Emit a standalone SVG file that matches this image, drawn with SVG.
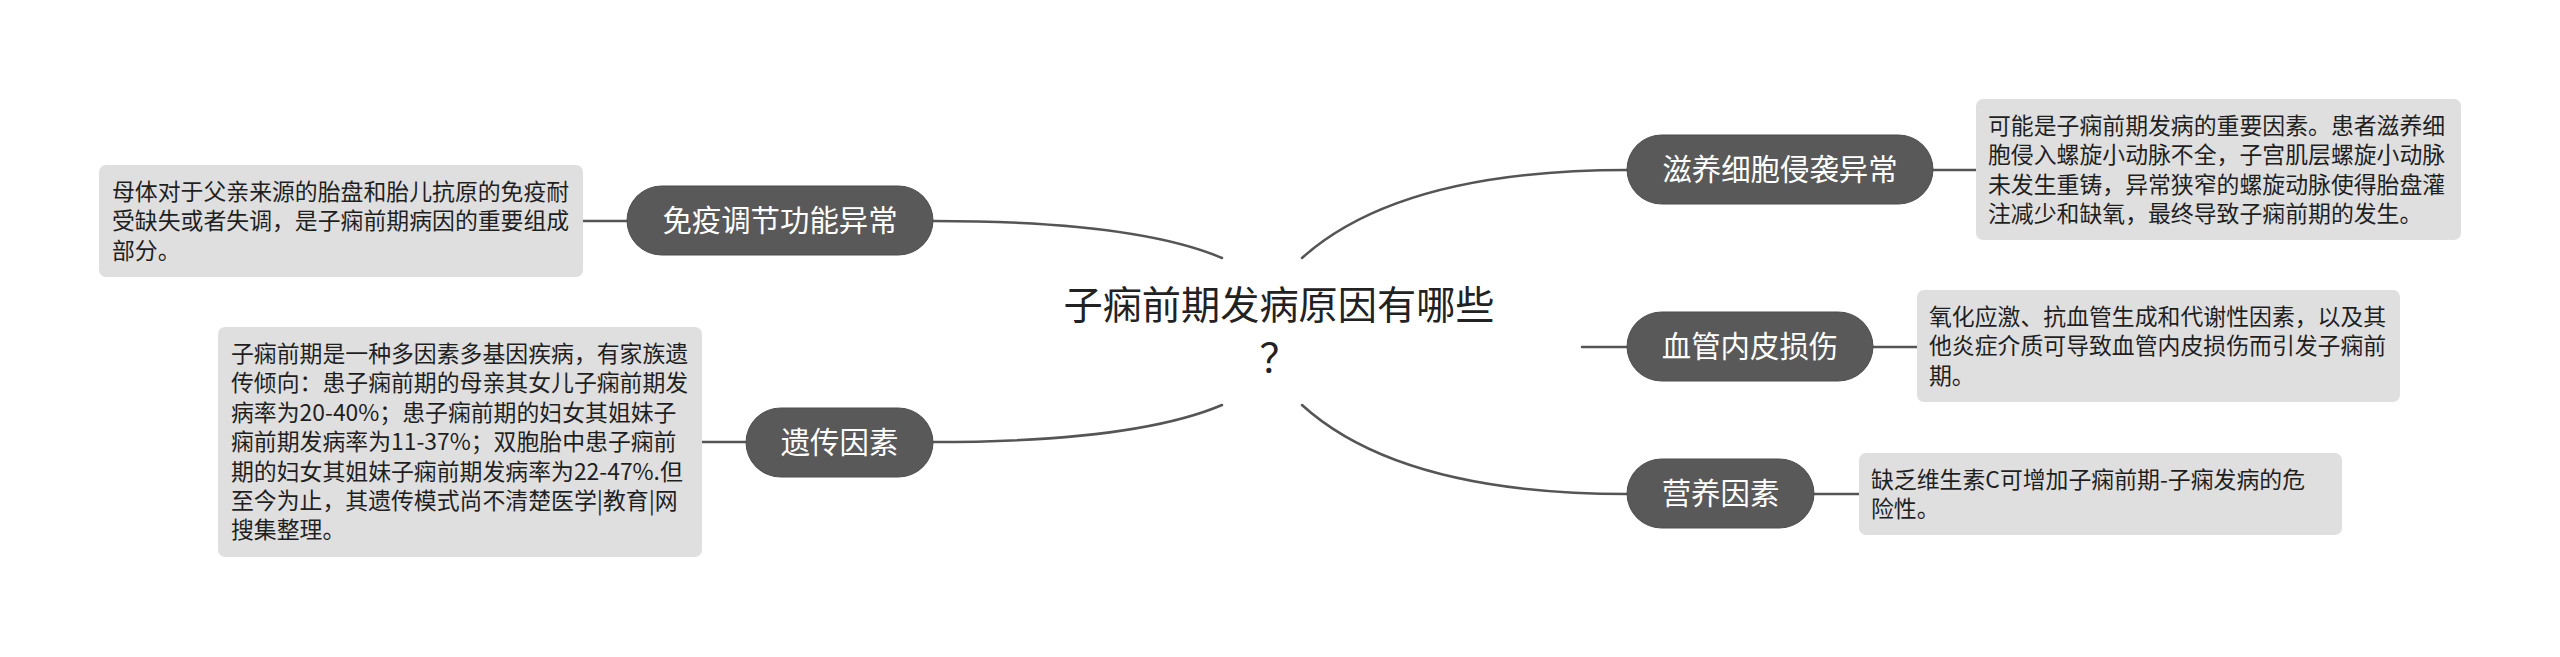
<svg xmlns="http://www.w3.org/2000/svg" width="2560" height="657" viewBox="0 0 2560 657">
<style>
.bg{fill:#ffffff}
.conn{fill:none;stroke:#555555;stroke-width:2.5;stroke-linecap:round}
.topic{fill:#595959;stroke:#4d4d4d;stroke-width:1}
.topic-t{font-family:"Noto Sans CJK SC","Noto Sans",sans-serif;font-size:29.4px;fill:#ffffff;text-anchor:middle}
.note{fill:#dfdfdf}
.note-t{font-family:"Noto Sans CJK SC","Noto Sans",sans-serif;font-size:22.86px;fill:#1f1f1f}
.title-t{font-family:"Noto Sans CJK SC","Noto Sans",sans-serif;font-size:39.2px;fill:#222222;text-anchor:middle}
</style>
<rect class="bg" x="0" y="0" width="2560" height="657"/>
<g id="connectors">
<path class="conn" d="M1222,258 Q1135,221 933,221"/>
<path class="conn" d="M1222,405 Q1135,442 933,442"/>
<path class="conn" d="M1302,258 Q1400,170 1627,170"/>
<path class="conn" d="M1582,347 H1627"/>
<path class="conn" d="M1302,405 Q1400,494 1627,494"/>
<path class="conn" d="M583,221 H627"/>
<path class="conn" d="M702,442 H746"/>
<path class="conn" d="M1933,170 H1976"/>
<path class="conn" d="M1873,347 H1917"/>
<path class="conn" d="M1814,494 H1859"/>
</g>
<g id="center">
<text class="title-t" x="1279" y="319">子痫前期发病原因有哪些</text>
<text class="title-t" x="1279" y="372">？</text>
</g>
<g id="node-immune">
<rect class="topic" x="627" y="186" width="306" height="69" rx="34.5"/>
<text class="topic-t" x="780" y="231">免疫调节功能异常</text>
</g>
<g id="note-immune">
<rect class="note" x="99" y="165" width="484" height="112" rx="7"/>
<text class="note-t" x="112" y="200">母体对于父亲来源的胎盘和胎儿抗原的免疫耐</text>
<text class="note-t" x="112" y="229.4">受缺失或者失调，是子痫前期病因的重要组成</text>
<text class="note-t" x="112" y="258.8">部分。</text>
</g>
<g id="node-genetic">
<rect class="topic" x="746" y="408" width="187" height="69" rx="34.5"/>
<text class="topic-t" x="839.5" y="453">遗传因素</text>
</g>
<g id="note-genetic">
<rect class="note" x="218" y="327" width="484" height="230" rx="7"/>
<text class="note-t" x="231" y="362">子痫前期是一种多因素多基因疾病，有家族遗</text>
<text class="note-t" x="231" y="391.4">传倾向：患子痫前期的母亲其女儿子痫前期发</text>
<text class="note-t" x="231" y="420.8">病率为20-40%；患子痫前期的妇女其姐妹子</text>
<text class="note-t" x="231" y="450.2">痫前期发病率为11-37%；双胞胎中患子痫前</text>
<text class="note-t" x="231" y="479.6">期的妇女其姐妹子痫前期发病率为22-47%.但</text>
<text class="note-t" x="231" y="509">至今为止，其遗传模式尚不清楚医学|教育|网</text>
<text class="note-t" x="231" y="538.4">搜集整理。</text>
</g>
<g id="node-trophoblast">
<rect class="topic" x="1627" y="135" width="306" height="69" rx="34.5"/>
<text class="topic-t" x="1780" y="180">滋养细胞侵袭异常</text>
</g>
<g id="note-trophoblast">
<rect class="note" x="1976" y="99" width="485" height="141" rx="7"/>
<text class="note-t" x="1988" y="134">可能是子痫前期发病的重要因素。患者滋养细</text>
<text class="note-t" x="1988" y="163.4">胞侵入螺旋小动脉不全，子宫肌层螺旋小动脉</text>
<text class="note-t" x="1988" y="192.8">未发生重铸，异常狭窄的螺旋动脉使得胎盘灌</text>
<text class="note-t" x="1988" y="222.2">注减少和缺氧，最终导致子痫前期的发生。</text>
</g>
<g id="node-vascular">
<rect class="topic" x="1627" y="312" width="246" height="69" rx="34.5"/>
<text class="topic-t" x="1750" y="357">血管内皮损伤</text>
</g>
<g id="note-vascular">
<rect class="note" x="1917" y="290" width="483" height="112" rx="7"/>
<text class="note-t" x="1929" y="325">氧化应激、抗血管生成和代谢性因素，以及其</text>
<text class="note-t" x="1929" y="354.4">他炎症介质可导致血管内皮损伤而引发子痫前</text>
<text class="note-t" x="1929" y="383.8">期。</text>
</g>
<g id="node-nutrition">
<rect class="topic" x="1627" y="459" width="187" height="69" rx="34.5"/>
<text class="topic-t" x="1720.5" y="504">营养因素</text>
</g>
<g id="note-nutrition">
<rect class="note" x="1859" y="453" width="483" height="82" rx="7"/>
<text class="note-t" x="1871" y="488">缺乏维生素C可增加子痫前期-子痫发病的危</text>
<text class="note-t" x="1871" y="517.4">险性。</text>
</g>
</svg>
